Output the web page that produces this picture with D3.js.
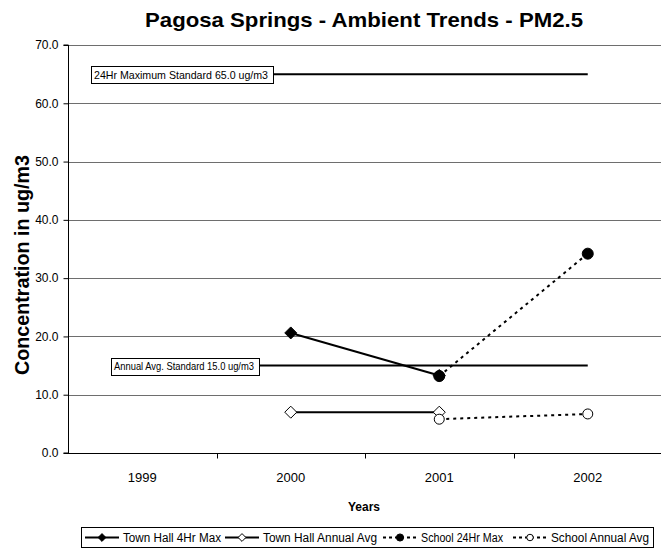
<!DOCTYPE html>
<html><head><meta charset="utf-8">
<script src="https://cdn.jsdelivr.net/npm/d3@7"></script>
<style>body{margin:0;background:#fff}svg{display:block}text{font-family:"Liberation Sans",Arial,sans-serif}</style>
</head><body><svg id="c" width="661" height="553"></svg>
<script>
const years = ["1999","2000","2001","2002"];
const townHall4HrMax = [null, 20.6, 13.3, null];
const townHallAnnualAvg = [null, 7.0, 7.0, null];
const school24HrMax = [null, null, 13.2, 34.2];
const schoolAnnualAvg = [null, null, 5.8, 6.7];
const std24Hr = [65.0, 65.0, 65.0, 65.0];
const stdAnnual = [15.0, 15.0, 15.0, 15.0];
const yTicks = [0,10,20,30,40,50,60,70];
const title = "Pagosa Springs - Ambient Trends - PM2.5";
const yTitle = "Concentration in ug/m3";
const xTitle = "Years";
const stdLabels = ["24Hr Maximum Standard 65.0 ug/m3", "Annual Avg. Standard 15.0 ug/m3"];
const seriesNames = ["Town Hall 4Hr Max","Town Hall Annual Avg","School 24Hr Max","School Annual Avg"];

const svg = d3.select("#c");
const L = 68, R = 662, T = 45, B = 453;
const x = d3.scaleBand().domain(years).range([L, R]);
const xc = d => x(d) + x.bandwidth()/2;
const y = d3.scaleLinear().domain([0,70]).range([B, T]);

// title
svg.append("text").attr("x",364).attr("y",27).attr("text-anchor","middle")
  .attr("font-size",20.5).attr("font-weight","bold")
  .attr("textLength",438).attr("lengthAdjust","spacingAndGlyphs").text(title);

// gridlines
svg.append("g").selectAll("line").data(yTicks.filter(d=>d>0)).join("line")
  .attr("x1",L).attr("x2",661).attr("y1",d=>Math.round(y(d))+0.5).attr("y2",d=>Math.round(y(d))+0.5)
  .attr("stroke","#6e6e6e").attr("stroke-width",1);

// y axis
const ya = d3.axisLeft(y).tickValues(yTicks).tickFormat(d3.format(".1f")).tickSize(5).tickPadding(5);
const gy = svg.append("g").attr("transform",`translate(${L+0.5},0)`).call(ya);
gy.selectAll("text").attr("font-size",12).attr("fill","#000").style("font-family","Liberation Sans, Arial, sans-serif");
gy.selectAll("line,path").attr("stroke","#000");
gy.select(".domain").attr("d",`M-5,${y(70)}H0V${B}H-5`);

// x axis
const xa = d3.axisBottom(x).tickSize(0).tickPadding(19);
const gx = svg.append("g").attr("transform",`translate(0,${B+0.5})`).call(xa);
gx.select(".domain").attr("d",`M${L},0H661`).attr("stroke","#000");
gx.selectAll("text").attr("font-size",13).attr("fill","#000").style("font-family","Liberation Sans, Arial, sans-serif");
gx.append("g").selectAll("line").data(years.slice(1)).join("line")
  .attr("x1",d=>Math.round(x(d))+0.5).attr("x2",d=>Math.round(x(d))+0.5).attr("y1",0).attr("y2",5).attr("stroke","#000");

// axis titles
svg.append("text").attr("transform",`translate(29,265) rotate(-90)`).attr("text-anchor","middle")
  .attr("font-size",20).attr("font-weight","bold")
  .attr("textLength",220).attr("lengthAdjust","spacingAndGlyphs").text(yTitle);
svg.append("text").attr("x",364).attr("y",511).attr("text-anchor","middle")
  .attr("font-size",12).attr("font-weight","bold").text(xTitle);

const line = d3.line().defined(d=>d.v!=null).x(d=>xc(d.k)).y(d=>y(d.v));
const pts = arr => years.map((k,i)=>({k, v:arr[i]}));

// standard lines
[std24Hr, stdAnnual].forEach(s=>{
  svg.append("path").attr("d",line(pts(s))).attr("fill","none").attr("stroke","#000").attr("stroke-width",2);
});
// standard label boxes
const boxes = [{v:std24Hr[0], x0:91, x1:273, t:stdLabels[0]},{v:stdAnnual[0], x0:111, x1:259, t:stdLabels[1]}];
boxes.forEach(b=>{
  const cy = y(b.v);
  svg.append("rect").attr("x",b.x0+0.5).attr("y",Math.round(cy-8)+0.5).attr("width",b.x1-b.x0).attr("height",17)
    .attr("fill","#fff").attr("stroke","#000").attr("stroke-width",1);
  svg.append("text").attr("x",b.x0+3).attr("y",cy+4.5).attr("font-size",11.5)
    .attr("textLength",b.x1-b.x0-8).attr("lengthAdjust","spacingAndGlyphs").text(b.t);
});

// series lines
const series = [
  {d:townHall4HrMax, dash:null, m:"diamond", fill:true},
  {d:townHallAnnualAvg, dash:null, m:"diamond", fill:false},
  {d:school24HrMax, dash:"3,4", m:"circle", fill:true},
  {d:schoolAnnualAvg, dash:"3,4", m:"circle", fill:false}
];
function marker(g, type, fill, cx, cy, scale){
  scale = scale||1;
  if(type==="diamond"){
    const r = 6*scale;
    g.append("path").attr("d",`M${cx},${cy-r}L${cx+r},${cy}L${cx},${cy+r}L${cx-r},${cy}Z`)
      .attr("fill",fill?"#000":"#fff").attr("stroke","#000").attr("stroke-width",1);
  } else {
    g.append("circle").attr("cx",cx).attr("cy",cy).attr("r",(fill?5.5:5)*scale)
      .attr("fill",fill?"#000":"#fff").attr("stroke","#000").attr("stroke-width",1);
  }
}
series.forEach(s=>{
  svg.append("path").attr("d",line(pts(s.d))).attr("fill","none").attr("stroke","#000")
    .attr("stroke-width",2).attr("stroke-dasharray",s.dash);
});
series.forEach(s=>{
  const g = svg.append("g");
  pts(s.d).filter(p=>p.v!=null).forEach(p=>marker(g,s.m,s.fill,xc(p.k),y(p.v)));
});

// legend
const lg = svg.append("g");
lg.append("rect").attr("x",81.5).attr("y",527.5).attr("width",572).attr("height",20)
  .attr("fill","#fff").attr("stroke","#000");
const lx = [85, 225, 383, 513];
const tw = [98, 114, 82, 98];
const ly = 537.5;
series.forEach((s,i)=>{
  const x0 = lx[i];
  lg.append("line").attr("x1",x0).attr("x2",x0+34).attr("y1",ly).attr("y2",ly).attr("stroke","#000")
    .attr("stroke-width",2).attr("stroke-dasharray",s.dash?"3,3":null);
  marker(lg, s.m, s.fill, x0+17, ly, 0.65);
  lg.append("text").attr("x",x0+38).attr("y",ly+4.5).attr("font-size",12)
    .attr("textLength",tw[i]).attr("lengthAdjust","spacingAndGlyphs").text(seriesNames[i]);
});
</script></body></html>
